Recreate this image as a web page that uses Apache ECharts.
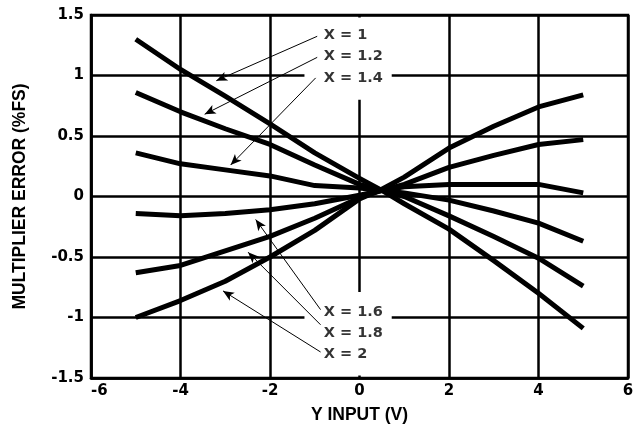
<!DOCTYPE html>
<html>
<head>
<meta charset="utf-8">
<script src="https://cdn.jsdelivr.net/npm/echarts@6/dist/echarts.min.js"></script>
<style>
  html, body { margin: 0; padding: 0; background: #fff; }
  #chart { width: 638px; height: 429px; }
</style>
</head>
<body>
<div id="chart"></div>
<script>
// ---- data ----
var yInput = [-5, -4, -3, -2, -1, 0, 0.5, 1, 2, 3, 4, 5];
var errX1_0 = [1.30, 1.05, 0.83, 0.60, 0.36, 0.15, 0.05, -0.06, -0.27, -0.53, -0.80, -1.09];
var errX1_2 = [0.86, 0.70, 0.56, 0.43, 0.26, 0.10, 0.05, 0.00, -0.16, -0.33, -0.51, -0.74];
var errX1_4 = [0.36, 0.27, 0.22, 0.17, 0.09, 0.07, 0.05, 0.03, -0.03, -0.12, -0.22, -0.37];
var errX1_6 = [-0.14, -0.16, -0.14, -0.11, -0.06, 0.01, 0.05, 0.08, 0.10, 0.10, 0.10, 0.03];
var errX1_8 = [-0.63, -0.57, -0.45, -0.33, -0.18, -0.01, 0.05, 0.10, 0.24, 0.34, 0.43, 0.47];
var errX2_0 = [-1.00, -0.86, -0.70, -0.50, -0.28, -0.02, 0.06, 0.16, 0.40, 0.58, 0.74, 0.84];

var seriesNames = ['X = 1', 'X = 1.2', 'X = 1.4', 'X = 1.6', 'X = 1.8', 'X = 2'];
var seriesValues = [errX1_0, errX1_2, errX1_4, errX1_6, errX1_8, errX2_0];

// label anchor points (data coords) and arrow tips (data coords)
var labelAnchors = [[-0.80, 1.335], [-0.80, 1.16], [-0.80, 0.98], [-0.80, -0.955], [-0.80, -1.13], [-0.80, -1.30]];
var arrowStarts = [[-0.945, 1.324], [-0.945, 1.15], [-0.98, 0.98], [-0.87, -0.935], [-0.87, -1.06], [-0.87, -1.285]];
var arrowTips = [[-3.20, 0.957], [-3.46, 0.68], [-2.88, 0.26], [-2.32, -0.19], [-2.49, -0.46], [-3.05, -0.78]];

var xTicks = { min: -6, max: 6, interval: 2 };
var yTicks = { min: -1.5, max: 1.5, interval: 0.5 };

function pairs(xs, ys) { return xs.map(function (x, i) { return [x, ys[i]]; }); }

var series = seriesValues.map(function (vals, i) {
  return {
    name: seriesNames[i],
    type: 'line',
    data: pairs(yInput, vals),
    showSymbol: false,
    symbol: 'none',
    smooth: false,
    z: 5,
    lineStyle: { color: '#000', width: 5, cap: 'butt', join: 'round' },
    emphasis: { disabled: true },
    silent: true
  };
});

// white masks where the grid lines are broken behind the annotation text
series.push({
  type: 'line', data: [], silent: true, z: 2,
  markArea: {
    silent: true,
    itemStyle: { color: '#fff', opacity: 1 },
    data: [
      [{ coord: [-1.23, 1.48] }, { coord: [0.72, 0.80] }],
      [{ coord: [-1.23, -0.79] }, { coord: [0.72, -1.48] }]
    ]
  }
});

// arrows
series.push({
  type: 'line', data: [], silent: true, z: 6,
  markLine: {
    silent: true,
    symbol: ['none', 'arrow'],
    symbolSize: [7, 11],
    label: { show: false },
    lineStyle: { color: '#000', width: 1, type: 'solid' },
    emphasis: { disabled: true },
    data: arrowStarts.map(function (s, i) {
      return [{ coord: s }, { coord: arrowTips[i] }];
    })
  }
});

// labels
series.push({
  type: 'scatter', silent: true, z: 7,
  symbolSize: 0,
  data: labelAnchors.map(function (p, i) { return { value: p, name: seriesNames[i] }; }),
  label: {
    show: true,
    position: [0, 0],
    align: 'left',
    verticalAlign: 'middle',
    formatter: function (p) { return p.name; },
    fontFamily: 'DejaVu Sans',
    fontWeight: 'bold',
    fontSize: 14.5,
    color: '#000'
  }
});

var chart = echarts.init(document.getElementById('chart'), null, { renderer: 'canvas' });
chart.setOption({
  animation: false,
  backgroundColor: '#fff',
  grid: { left: 91, right: 10, top: 15, bottom: 49, show: true, borderColor: '#000', borderWidth: 2.5, backgroundColor: 'transparent' },
  xAxis: {
    type: 'value',
    min: xTicks.min, max: xTicks.max, interval: xTicks.interval,
    name: 'Y INPUT (V)',
    nameLocation: 'middle',
    nameGap: 28,
    nameTextStyle: { fontFamily: 'Liberation Sans', fontWeight: 'bold', fontSize: 17.5, color: '#000' },
    axisLine: { show: true, onZero: false, lineStyle: { color: '#000', width: 2.5 } },
    axisTick: { show: false },
    splitLine: { show: true, lineStyle: { color: '#000', width: 2.5 } },
    axisLabel: { margin: 6, alignMinLabel: 'left', fontFamily: 'DejaVu Sans', fontWeight: 'bold', fontSize: 15, color: '#000' }
  },
  yAxis: {
    type: 'value',
    min: yTicks.min, max: yTicks.max, interval: yTicks.interval,
    name: 'MULTIPLIER ERROR (%FS)',
    nameLocation: 'middle',
    nameGap: 62,
    nameTextStyle: { fontFamily: 'Liberation Sans', fontWeight: 'bold', fontSize: 17.5, color: '#000' },
    axisLine: { show: true, onZero: false, lineStyle: { color: '#000', width: 2.5 } },
    axisTick: { show: false },
    splitLine: { show: true, lineStyle: { color: '#000', width: 2.5 } },
    axisLabel: { margin: 7, fontFamily: 'DejaVu Sans', fontWeight: 'bold', fontSize: 15, color: '#000' }
  },
  series: series
});
</script>
</body>
</html>
